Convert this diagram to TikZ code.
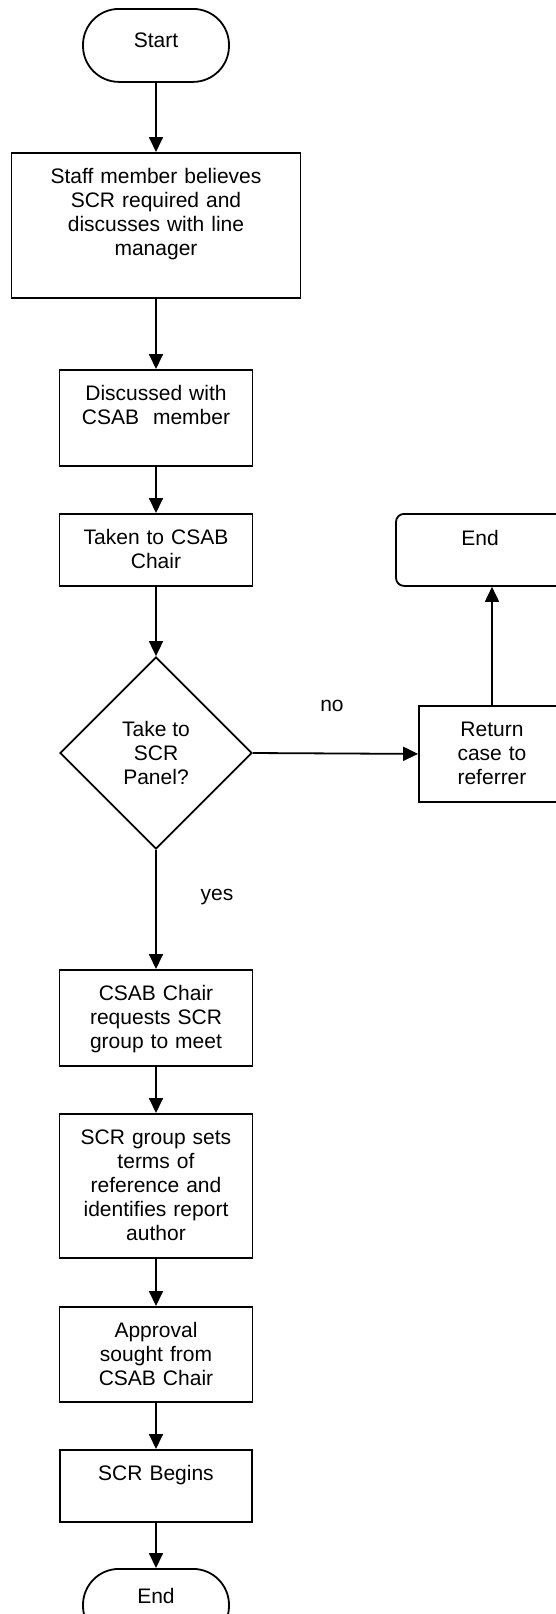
\documentclass[tikz,border=0pt]{standalone}
\usepackage{fontspec}
\setmainfont{Liberation Sans}
\usetikzlibrary{shapes.geometric, arrows.meta}
\tikzset{
  stepbox/.style={draw, line width=0.9pt, inner sep=0pt, anchor=north, align=center, text height=15.5pt, font=\fontsize{10.5}{12}\selectfont},
  termbox/.style={stepbox, rounded corners=18pt, text width=73pt},
  decision/.style={diamond, draw, line width=0.9pt, inner sep=0pt, minimum width=96pt, minimum height=96pt, align=center, font=\fontsize{10.5}{12}\selectfont},
  flow/.style={line width=0.9pt, -{Triangle[length=7.5pt, width=7pt]}},
  tag/.style={font=\fontsize{10.5}{12}\selectfont}
}

\begin{document}
\begin{tikzpicture}[x=0.5pt, y=-0.5pt]
\useasboundingbox (0,0) rectangle (556,1614);
\node[termbox, text height=19.5pt, text depth=17pt] (start) at (156,8) {Start};
\node[stepbox, text width=144.5pt, text depth=57pt] (staff) at (156,152) {Staff member believes\\SCR required and\\discusses with line\\manager};
\node[stepbox, text width=96.5pt, text depth=32.5pt] (disc) at (156,369) {Discussed with\\CSAB~~member};
\node[stepbox, text width=96.5pt, text depth=20.5pt] (taken) at (156,513) {Taken to CSAB\\Chair};
\node[decision] (panel) at (156,753) {Take to\\SCR\\Panel?};
\node[stepbox, text width=73pt, text depth=32.5pt] (ret) at (492,705) {Return\\case to\\referrer};
\node[stepbox, rounded corners=4pt, text width=84pt, text height=16pt, text depth=20pt] (endR) at (480,513) {End};
\node[stepbox, text width=96.5pt, text depth=32.5pt] (req) at (156,969) {CSAB Chair\\requests SCR\\group to meet};
\node[stepbox, text width=96.5pt, text depth=56.5pt] (grp) at (156,1113) {SCR group sets\\terms of\\reference and\\identifies report\\author};
\node[stepbox, text width=96.5pt, text depth=32pt] (appr) at (156,1306) {Approval\\sought from\\CSAB Chair};
\node[stepbox, text width=96pt, text depth=20.5pt] (begins) at (156,1449) {SCR Begins};
\node[termbox, text height=17.5pt, text depth=19pt] (endB) at (156,1568) {End};
\node[tag] (no) at (332,706) {no};
\node[tag] (yes) at (217,897) {yes};
\draw[flow] (start) -- (staff);
\draw[flow] (staff) -- (disc);
\draw[flow] (disc) -- (taken);
\draw[flow] (taken) -- (panel);
\draw[flow] (panel) -- (req);
\draw[flow] (panel.east) -- (ret.west);
\draw[flow] (ret.north) -- (ret.north |- endR.south);
\draw[flow] (req) -- (grp);
\draw[flow] (grp) -- (appr);
\draw[flow] (appr) -- (begins);
\draw[flow] (begins) -- (endB);
\end{tikzpicture}
\end{document}
